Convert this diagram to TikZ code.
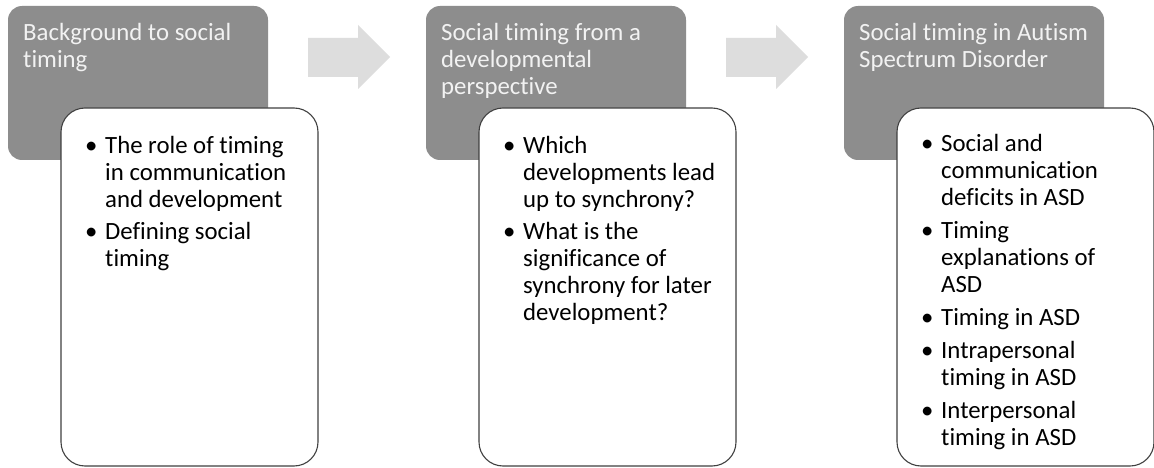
\documentclass[tikz,border=0pt]{standalone}
\usepackage{fontspec}
\setmainfont[Ligatures=NoCommon]{Carlito}
\definecolor{boxgray}{RGB}{141,141,141}
\definecolor{arrowgray}{RGB}{221,221,221}
\definecolor{bordergray}{RGB}{64,64,64}
\definecolor{titlecol}{RGB}{242,242,242}
\newcommand{\bfont}{\fontsize{24.8}{27}\selectfont}
\begin{document}
\begin{tikzpicture}[x=1pt,y=-1pt,
  graybox/.style={fill=boxgray, draw=none, rounded corners=14pt, inner sep=0pt, outer sep=0pt,
    minimum width=260pt, minimum height=154pt, anchor=north west},
  whitebox/.style={fill=white, draw=bordergray, line width=1.1pt, rounded corners=24pt, inner sep=0pt, outer sep=0pt,
    minimum width=257pt, minimum height=358pt, anchor=north west},
  titletext/.style={anchor=north west, inner sep=0pt, align=left, text=titlecol, font=\bfont},
  itemtext/.style={anchor=north west, inner sep=0pt, font=\bfont, text=black},
  flowarrow/.style={fill=arrowgray, draw=none}
]
\useasboundingbox (0,0) rectangle (1154,468);
\fill[white] (0,0) rectangle (1154,468);

% column 1
\node[graybox] (g1) at (8,6) {};
\node[titletext] (t1) at (23,20) {\rule{0pt}{20pt}Background to social\\timing};
\node[whitebox] (w1) at (61,108) {};
\node[itemtext] (b1) at (85,134) {\begin{tabular}{@{}p{20pt}@{}l@{}}
\textbullet & The role of timing\\
 & in communication\\
 & and development\\[5pt]
\textbullet & Defining social\\
 & timing
\end{tabular}};

% column 2
\node[graybox] (g2) at (426,6) {};
\node[titletext] (t2) at (441,20) {\rule{0pt}{20pt}Social timing from a\\developmental\\perspective};
\node[whitebox] (w2) at (479,108) {};
\node[itemtext] (b2) at (503,134) {\begin{tabular}{@{}p{20pt}@{}l@{}}
\textbullet & Which\\
 & developments lead\\
 & up to synchrony?\\[5pt]
\textbullet & What is the\\
 & significance of\\
 & synchrony for later\\
 & development?
\end{tabular}};

% column 3
\node[graybox] (g3) at (844,6) {};
\node[titletext] (t3) at (859,20) {\rule{0pt}{20pt}Social timing in Autism\\Spectrum Disorder};
\node[whitebox] (w3) at (897,108) {};
\node[itemtext] (b3) at (921,132) {\begin{tabular}{@{}p{20pt}@{}l@{}}
\textbullet & Social and\\
 & communication\\
 & deficits in ASD\\[6pt]
\textbullet & Timing\\
 & explanations of\\
 & ASD\\[6pt]
\textbullet & Timing in ASD\\[6pt]
\textbullet & Intrapersonal\\
 & timing in ASD\\[6pt]
\textbullet & Interpersonal\\
 & timing in ASD
\end{tabular}};

% arrows
\foreach \dx in {0,418}{
  \fill[flowarrow, xshift=\dx pt] (308,38) -- (358,38) -- (358,25) -- (390,57) -- (358,89) -- (358,77) -- (308,77) -- cycle;
}
\end{tikzpicture}
\end{document}
